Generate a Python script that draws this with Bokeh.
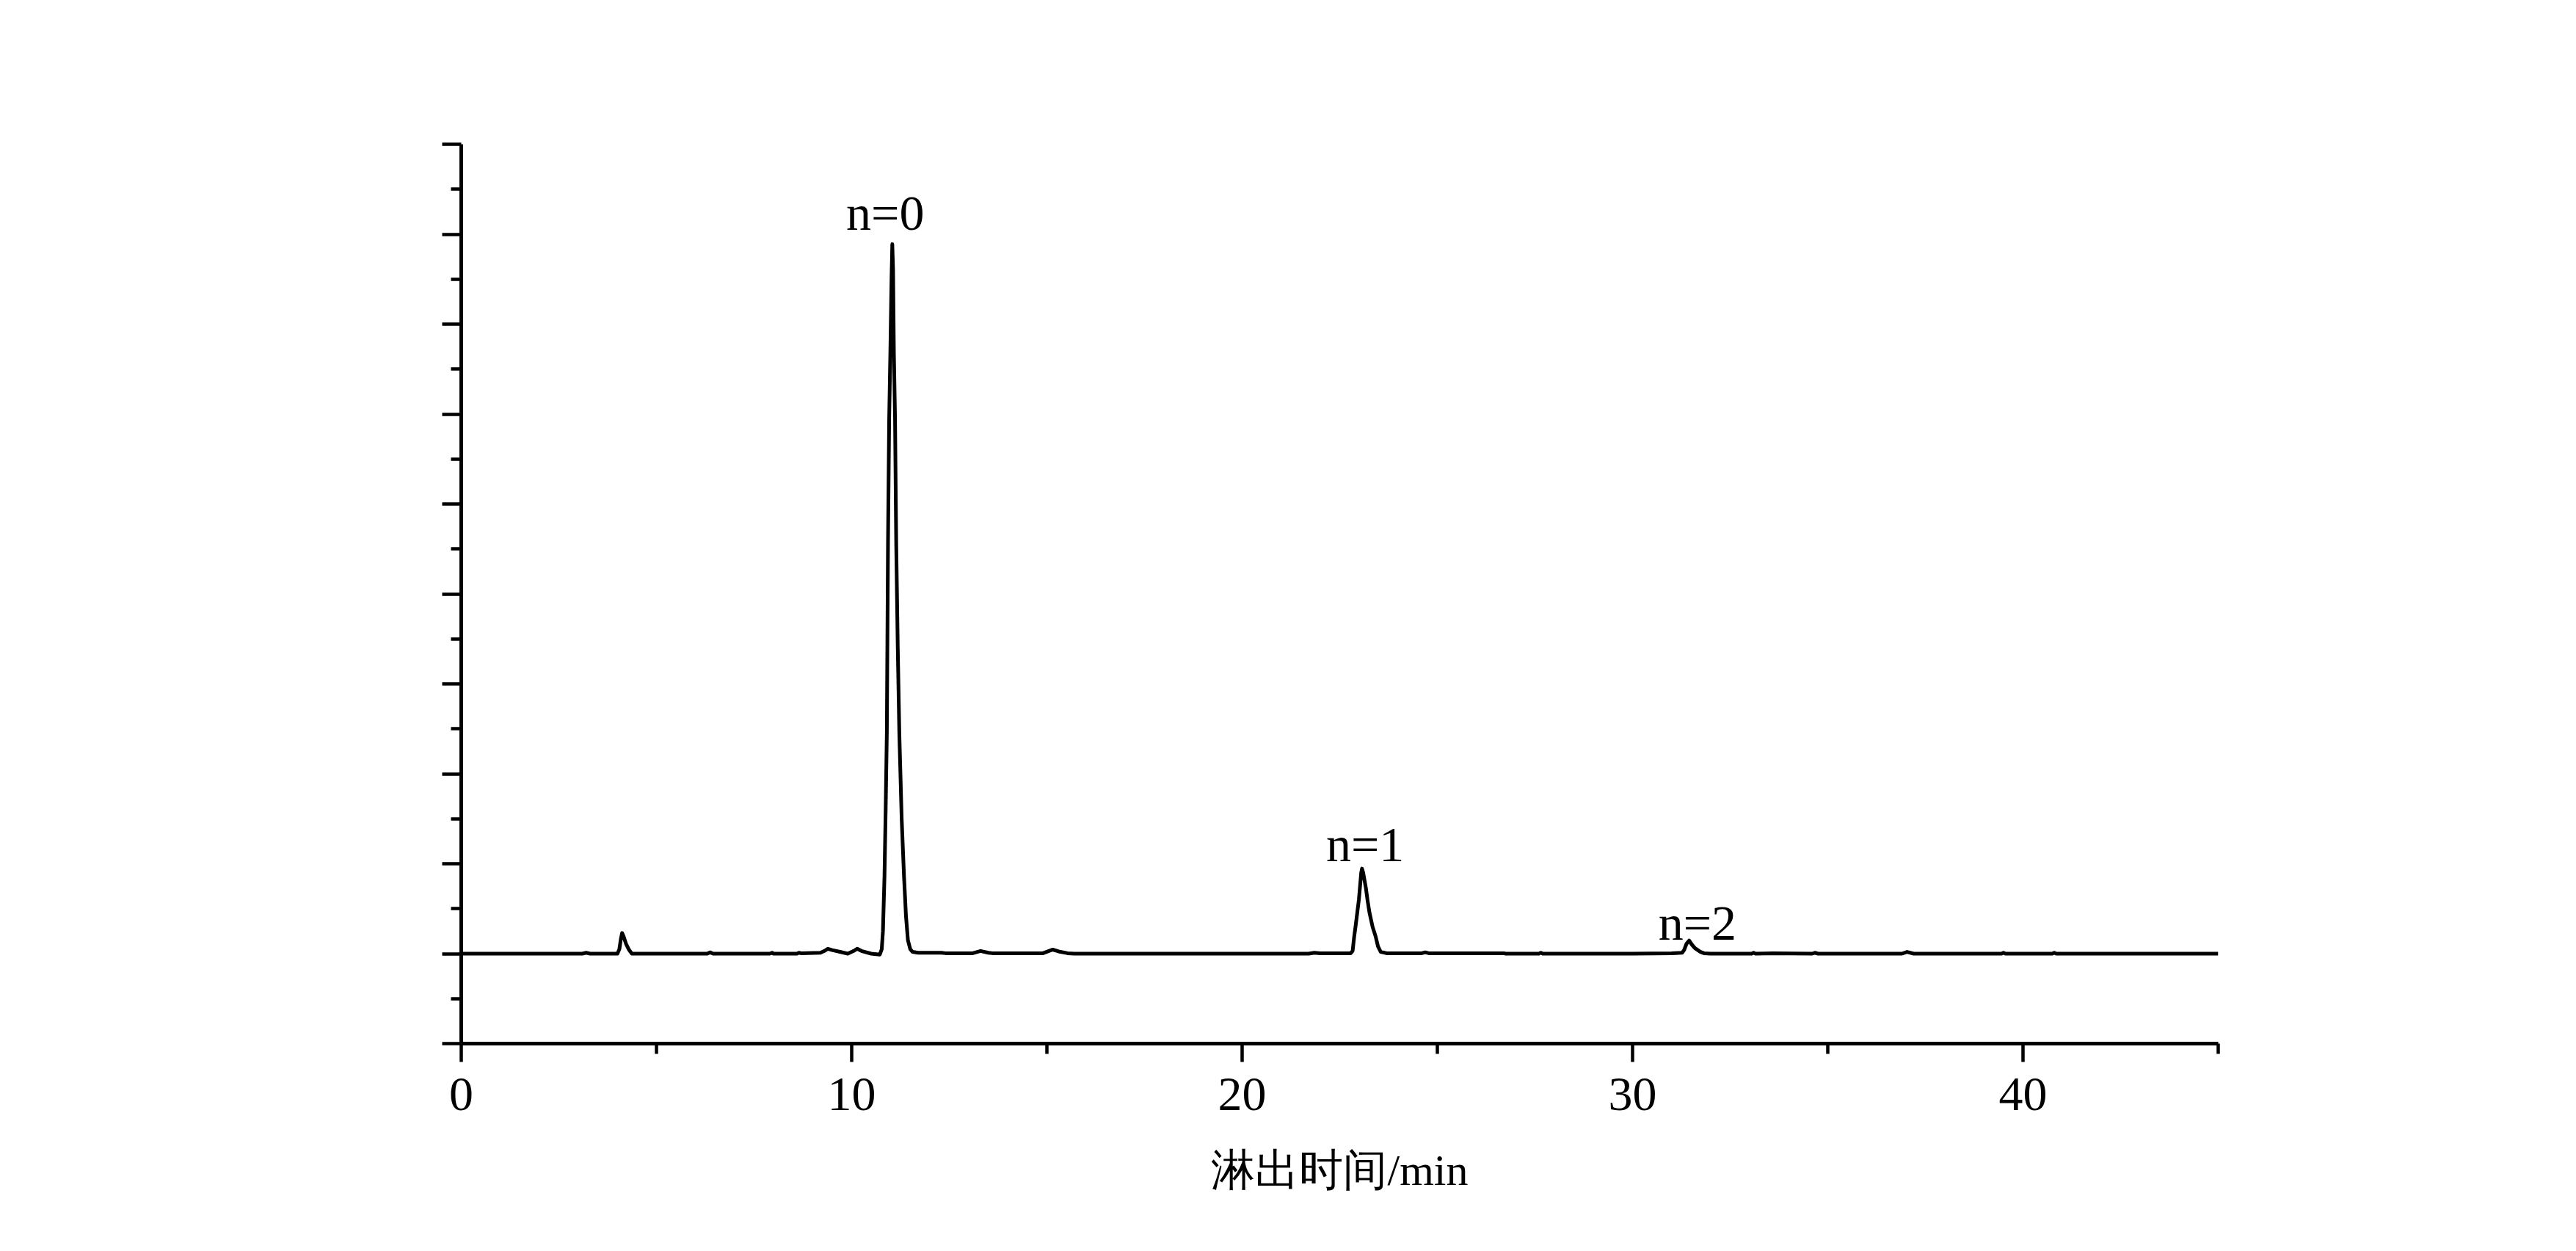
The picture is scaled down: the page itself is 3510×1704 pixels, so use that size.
from bokeh.plotting import figure
from bokeh.models import Range1d, FixedTicker, CustomJSTickFormatter, ColumnDataSource
from bokeh.core.properties import value
from bokeh.embed import file_html
from bokeh.resources import INLINE

# Chromatogram trace (time in min, detector signal in arbitrary units)
time = [0.0, 3.1, 3.2, 3.3, 4.0, 4.05, 4.09, 4.12, 4.16, 4.22, 4.3, 4.37, 5.5, 6.3, 6.37, 6.45,
        7.9, 7.96, 8.0, 8.6, 8.65, 8.7, 9.2, 9.3, 9.39, 9.5, 9.7, 9.9, 10.05, 10.14,
        10.25, 10.5, 10.72, 10.77, 10.80, 10.84, 10.87, 10.90, 10.93, 10.96, 10.99, 11.02,
        11.04, 11.06, 11.08, 11.11, 11.14, 11.18, 11.22, 11.28, 11.34, 11.39, 11.44, 11.50,
        11.56, 11.7, 12.3, 12.4, 13.1, 13.3, 13.5, 13.6, 14.9, 15.05, 15.15, 15.3, 15.53,
        15.7, 21.7, 21.85, 22.0, 22.78, 22.83, 22.87, 22.91, 22.95, 22.99, 23.03, 23.05,
        23.07, 23.10, 23.17, 23.21, 23.26, 23.34, 23.42, 23.48, 23.55, 23.7, 24.6, 24.69,
        24.78, 26.7, 26.75, 27.6, 27.65, 27.7, 30.0, 31.0, 31.27, 31.32, 31.38, 31.45,
        31.52, 31.6, 31.74, 31.83, 32.0, 33.05, 33.1, 33.15, 33.6, 34.6, 34.67, 34.75,
        36.9, 37.03, 37.2, 39.45, 39.5, 39.55, 40.75, 40.8, 40.85, 45.0]
signal = [0.0, 0.0, 0.01, 0.0, 0.0, 0.05, 0.17, 0.23, 0.19, 0.11, 0.04, 0.0, 0.0, 0.0, 0.015, 0.0,
          0.0, 0.01, 0.0, 0.0, 0.01, 0.005, 0.01, 0.03, 0.055, 0.04, 0.02, 0.0, 0.03, 0.055,
          0.03, 0.0, -0.01, 0.05, 0.25, 0.86, 1.6, 2.45, 4.57, 5.95, 6.69, 7.5,
          7.89, 7.6, 6.69, 5.95, 4.57, 3.4, 2.45, 1.5, 0.86, 0.42, 0.15, 0.05,
          0.02, 0.01, 0.01, 0.005, 0.005, 0.03, 0.01, 0.005, 0.005, 0.03, 0.045, 0.025, 0.005,
          0.0, 0.0, 0.01, 0.005, 0.005, 0.03, 0.19, 0.32, 0.46, 0.6, 0.8, 0.9,
          0.946, 0.9, 0.73, 0.6, 0.46, 0.3, 0.19, 0.08, 0.02, 0.005, 0.005, 0.015,
          0.005, 0.005, 0.0, 0.0, 0.01, 0.0, 0.0, 0.005, 0.01, 0.04, 0.11, 0.146,
          0.1, 0.06, 0.02, 0.005, 0.0, 0.0, 0.01, 0.0, 0.005, 0.0, 0.01, 0.0,
          0.0, 0.02, 0.0, 0.0, 0.01, 0.0, 0.0, 0.01, 0.0, 0.0]

# Peak annotations
label_text = ["n=0", "n=1", "n=2"]
label_x = [10.86, 23.15, 31.66]
label_y = [8.04, 1.02, 0.15]

# Axes
x_major = [0, 10, 20, 30, 40]
x_minor = [5, 15, 25, 35, 45]
y_major = [-1, 0, 1, 2, 3, 4, 5, 6, 7, 8, 9]
y_minor = [-0.5, 0.5, 1.5, 2.5, 3.5, 4.5, 5.5, 6.5, 7.5, 8.5]
x_title = "淋出时间/min"

SERIF = "Liberation Serif"

p = figure(width=3494, height=1688, output_backend="svg", toolbar_location=None,
           x_range=Range1d(0, 45), y_range=Range1d(-1, 9),
           min_border_left=628, min_border_right=472,
           min_border_top=196, min_border_bottom=267)
p.outline_line_color = None
p.xgrid.visible = False
p.ygrid.visible = False
p.background_fill_color = "white"
p.border_fill_color = "white"

p.line(time, signal, line_color="black", line_width=5, line_join="round")

src = ColumnDataSource(dict(x=label_x, y=label_y, t=label_text))
p.text(x="x", y="y", text="t", source=src, text_align="center",
       text_baseline="alphabetic", text_font=value(SERIF),
       text_font_size="68px", text_color="black", y_offset=-24)

xa = p.xaxis[0]
xa.ticker = FixedTicker(ticks=x_major, minor_ticks=x_minor)
xa.axis_line_width = 5
xa.axis_line_color = "black"
xa.major_tick_line_color = "black"
xa.minor_tick_line_color = "black"
xa.major_tick_line_width = 4.5
xa.minor_tick_line_width = 4.5
xa.major_tick_in = 0
xa.minor_tick_in = 0
xa.major_tick_out = 25
xa.minor_tick_out = 14
xa.major_label_text_font = SERIF
xa.major_label_text_font_size = "66px"
xa.major_label_text_color = "black"
xa.major_label_standoff = 22
xa.axis_label = x_title
xa.axis_label_text_font = SERIF
xa.axis_label_text_font_style = "normal"
xa.axis_label_text_font_size = "60px"
xa.axis_label_text_color = "black"
xa.axis_label_standoff = 46

ya = p.yaxis[0]
ya.ticker = FixedTicker(ticks=y_major, minor_ticks=y_minor)
ya.formatter = CustomJSTickFormatter(code="return ''")
ya.axis_line_width = 5
ya.axis_line_color = "black"
ya.major_tick_line_color = "black"
ya.minor_tick_line_color = "black"
ya.major_tick_line_width = 4.5
ya.minor_tick_line_width = 4.5
ya.major_tick_in = 0
ya.minor_tick_in = 0
ya.major_tick_out = 26
ya.minor_tick_out = 14

open("out.html", "w").write(file_html(p, INLINE))
